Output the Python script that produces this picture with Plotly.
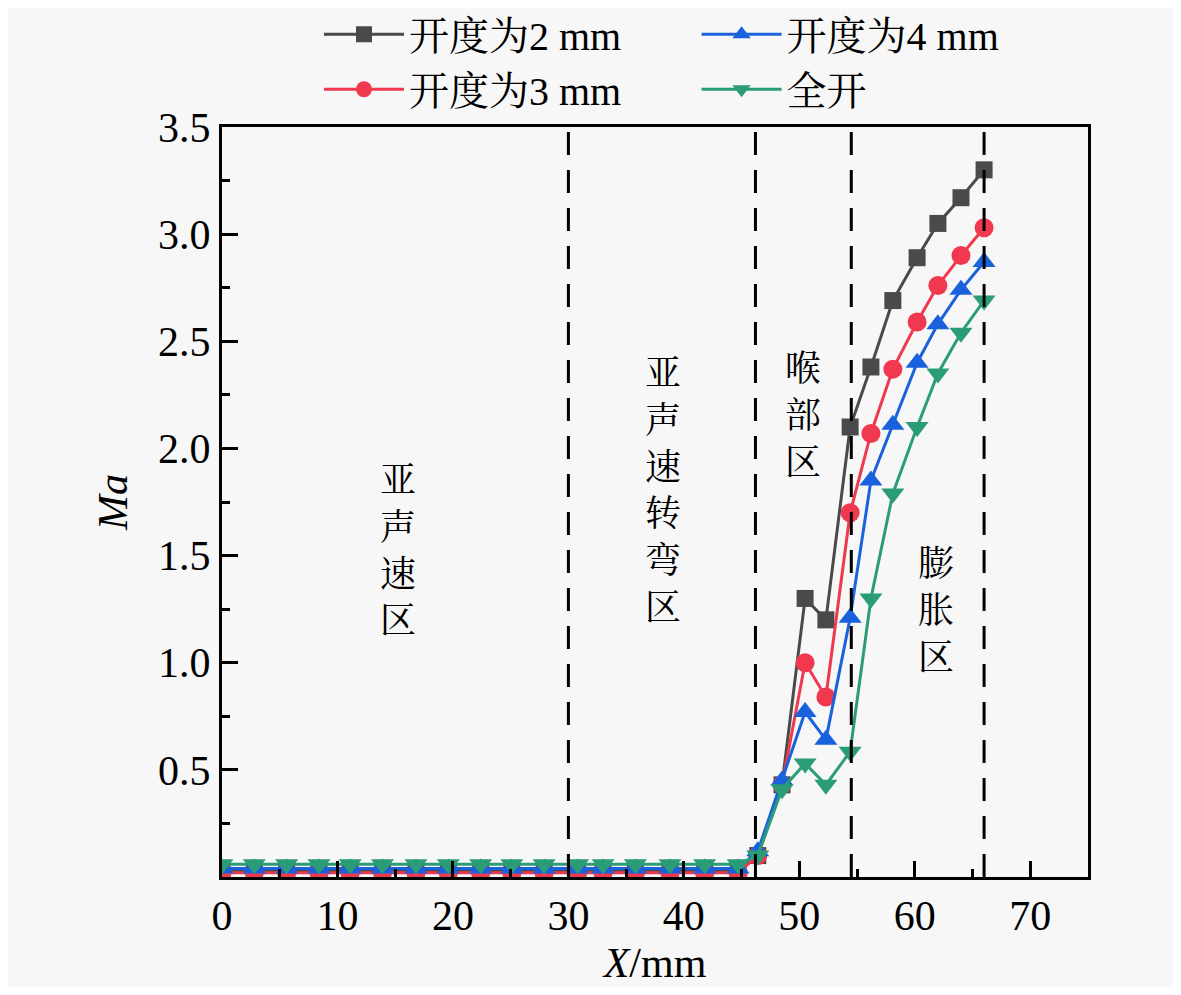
import plotly.graph_objects as go

# ---------- data ----------
x_mm = [0, 2.8, 5.6, 8.4, 11.1, 13.9, 16.8, 19.6, 22.4, 25.1, 27.9, 30.8, 33.0,
        35.8, 38.8, 41.8, 44.7, 46.4, 48.5, 50.5, 52.3, 54.4, 56.2, 58.1, 60.2,
        62.0, 64.0, 66.0]

ma_2mm = [0.03] * 17 + [0.10, 0.43, 1.30, 1.20, 2.10, 2.38, 2.69, 2.89, 3.05, 3.17, 3.30]
ma_3mm = [0.02] * 17 + [0.10, 0.43, 1.00, 0.84, 1.70, 2.07, 2.37, 2.59, 2.76, 2.90, 3.03]
ma_4mm = [0.04] * 17 + [0.12, 0.45, 0.77, 0.64, 1.21, 1.85, 2.11, 2.40, 2.58, 2.74, 2.87]
ma_full = [0.06] * 17 + [0.10, 0.41, 0.53, 0.43, 0.585, 1.30, 1.79, 2.10, 2.35, 2.54, 2.69]

zone_bounds = [30.0, 46.2, 54.5, 66.0]
zone_labels = ["亚声速区", "亚声速转弯区", "喉部区", "膨胀区"]
zone_label_x = [15.2, 38.2, 50.3, 61.8]
zone_label_y = [1.52, 1.80, 2.15, 1.24]

x_ticks = [0, 10, 20, 30, 40, 50, 60, 70]
y_ticks = [0.5, 1.0, 1.5, 2.0, 2.5, 3.0, 3.5]

FONT = "Liberation Serif, Noto Serif CJK SC, Noto Sans CJK SC"
BG = "#f7f7f7"

series = [
    ("开度为2 mm", ma_2mm, "#4a4a4a", "square", 17, "legend"),
    ("开度为3 mm", ma_3mm, "#f0384e", "circle", 19, "legend"),
    ("开度为4 mm", ma_4mm, "#1a62dc", "triangle-up", 20, "legend2"),
    ("全开", ma_full, "#2a9d78", "triangle-down", 20, "legend2"),
]

fig = go.Figure()
for name, ys, color, symbol, size, leg in series:
    fig.add_trace(go.Scatter(
        x=x_mm, y=ys, name=name, mode="lines+markers",
        line=dict(color=color, width=3),
        marker=dict(symbol=symbol, size=size, color=color),
        legend=leg,
    ))

# zone boundaries
for xb in zone_bounds:
    fig.add_shape(type="line", xref="x", yref="paper", x0=xb, x1=xb, y0=0, y1=1,
                  line=dict(color="black", width=3, dash="23px,15px"))

for txt, xa, ya in zip(zone_labels, zone_label_x, zone_label_y):
    fig.add_annotation(x=xa, y=ya, xref="x", yref="y", showarrow=False,
                       text="<br>".join(txt), font=dict(family=FONT, size=36, color="black"))

axis_common = dict(
    showline=True, linecolor="black", linewidth=3, mirror=True,
    showgrid=False, zeroline=False,
    ticks="inside", ticklen=16, tickwidth=3, tickcolor="black",
    tickfont=dict(family=FONT, size=42, color="black"),
)

fig.update_xaxes(range=[0, 75], tickvals=x_ticks,
                 minor=dict(dtick=5, ticks="inside", ticklen=8, tickwidth=3, tickcolor="black"),
                 title=dict(text="<i>X</i>/mm", font=dict(family=FONT, size=42), standoff=10),
                 **axis_common)
fig.update_yaxes(range=[0, 3.5], tickvals=y_ticks, tickformat=".1f",
                 minor=dict(dtick=0.25, ticks="inside", ticklen=8, tickwidth=3, tickcolor="black"),
                 title=dict(text="<i>Ma</i>", font=dict(family=FONT, size=42), standoff=18),
                 **axis_common)

legend_common = dict(
    bgcolor="rgba(0,0,0,0)", font=dict(family=FONT, size=40, color="black"),
    orientation="v", xanchor="left", yanchor="top", tracegroupgap=0, itemwidth=80,
)

# page body keeps an 8 px margin, so the figure is drawn 16 px smaller
fig.update_layout(
    width=1165, height=979,
    margin=dict(l=214, r=85, t=119, b=110, autoexpand=False),
    paper_bgcolor=BG, plot_bgcolor=BG,
    font=dict(family=FONT, size=42, color="black"),
    showlegend=True,
    legend=dict(x=0.112, y=1.167, **legend_common),
    legend2=dict(x=0.548, y=1.167, **legend_common),
)

fig.write_html("out.html")
